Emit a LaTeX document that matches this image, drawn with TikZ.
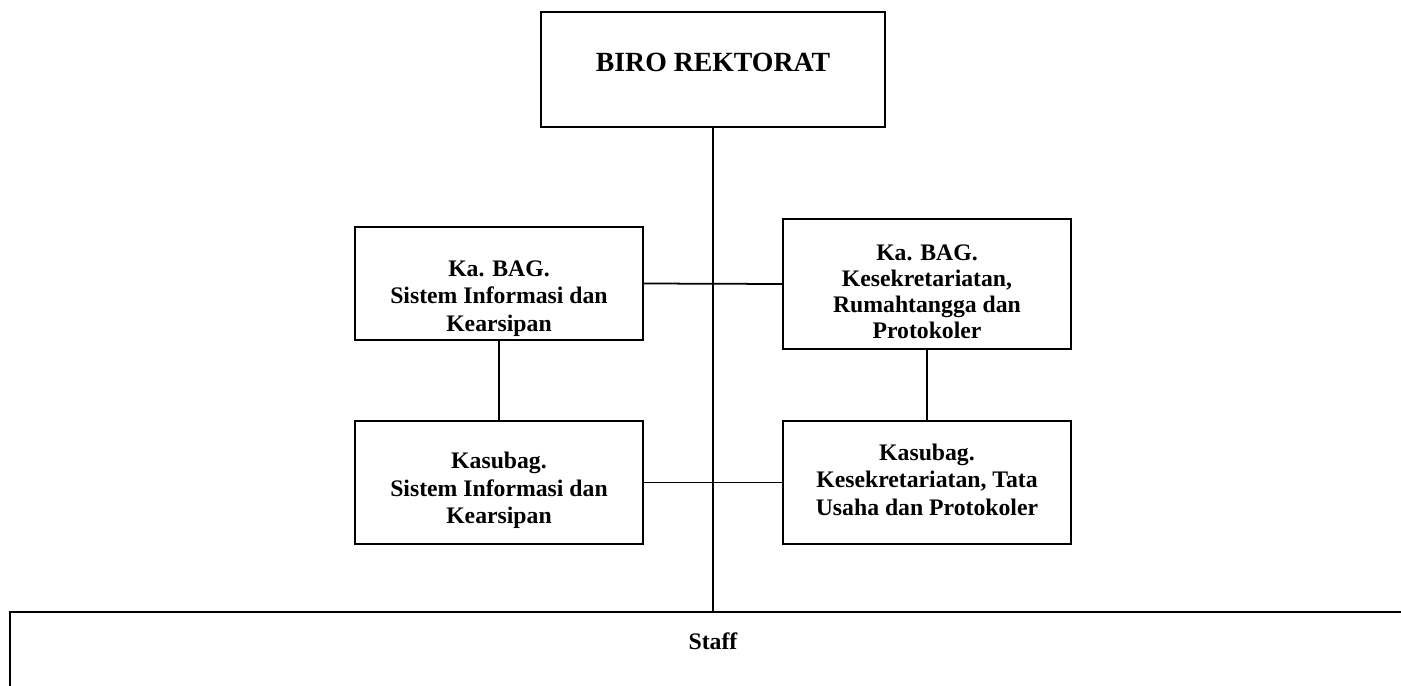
\documentclass[tikz,border=0pt]{standalone}
\usepackage{fontspec}
\setmainfont{Liberation Serif}

\begin{document}
\begin{tikzpicture}[x=0.02cm, y=-0.02cm,
	unitbox/.style={draw, line width=1pt, inner sep=0pt},
	unittext/.style={align=center, inner sep=0pt,
		font=\fontsize{13.5}{15.6}\selectfont\bfseries},
	link/.style={line width=1pt}]
	\useasboundingbox (0,0) rectangle (1401,686);
	\clip (0,0) rectangle (1401,686);
	% top of the chart
	\node[unitbox, minimum width=6.88cm, minimum height=2.3cm] (biro) at (713,69.5) {};
	\node[unittext, font=\fontsize{15.8}{18}\selectfont\bfseries] (birotxt) at (713,62.5) {BIRO REKTORAT};
	% bagian
	\node[unitbox, minimum width=5.76cm, minimum height=2.26cm] (kabagsi) at (499,283.5) {};
	\node[unittext] (kabagsitxt) at (499,298.5) {Ka. BAG.\\Sistem Informasi dan\\Kearsipan};
	\node[unitbox, minimum width=5.76cm, minimum height=2.6cm] (kabagkr) at (927,284) {};
	\node[unittext, font=\fontsize{13.5}{14.7}\selectfont\bfseries] (kabagkrtxt) at (927,292)
		{Ka. BAG.\\Kesekretariatan,\\Rumahtangga dan\\Protokoler};
	% sub bagian
	\node[unitbox, minimum width=5.76cm, minimum height=2.46cm] (kasubsi) at (499,482.5) {};
	\node[unittext] (kasubsitxt) at (499,490.5) {Kasubag.\\Sistem Informasi dan\\Kearsipan};
	\node[unitbox, minimum width=5.76cm, minimum height=2.46cm] (kasubkr) at (927,482.5) {};
	\node[unittext] (kasubkrtxt) at (927,479.5) {Kasubag.\\Kesekretariatan, Tata\\Usaha dan Protokoler};
	% staff
	\node[unitbox, anchor=north west, minimum width=28.22cm, minimum height=2.18cm] (staffbox) at (9,611) {};
	\node[unittext] (staff) at (713,641) {Staff};
	% lines
	\draw[link] (biro.south) -- (biro.south |- staffbox.north);
	\draw[link] (kabagsi.east) -- (kabagkr.west);
	\draw[link] (kasubsi.east) -- (kasubkr.west);
	\draw[link] (kabagsi.south) -- (kasubsi.north);
	\draw[link] (kabagkr.south) -- (kasubkr.north);
\end{tikzpicture}
\end{document}
